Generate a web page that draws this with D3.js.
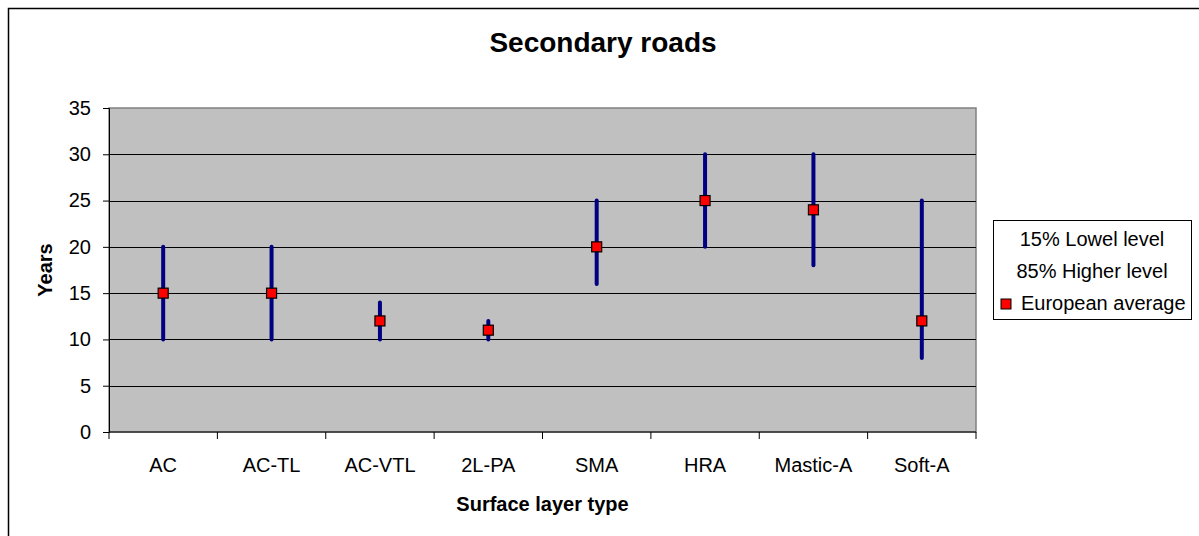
<!DOCTYPE html>
<html>
<head>
<meta charset="utf-8">
<script src="https://cdn.jsdelivr.net/npm/d3@7"></script>
<style>
  body { margin: 0; background: #fff; }
  svg { display: block; font-family: "Liberation Sans", Arial, sans-serif; }
</style>
</head>
<body>
<script>
const categories = ["AC", "AC-TL", "AC-VTL", "2L-PA", "SMA", "HRA", "Mastic-A", "Soft-A"]
const lowLevel = [10, 10, 10, 10, 16, 20, 18, 8]
const highLevel = [20, 20, 14, 12, 25, 30, 30, 25]
const europeanAverage = [15, 15, 12, 11, 20, 25, 24, 12]
const yTicks = [0, 5, 10, 15, 20, 25, 30, 35]
const legendLabels = ["15% Lowel level", "85% Higher level", "European average"]

const W = 1199, H = 536
const plot = { left: 109, top: 108, right: 976, bottom: 432 }
const fs = "20px"

const svg = d3.select("body").append("svg")
    .attr("width", W)
    .attr("height", H)

// outer chart frame (runs off the picture at right and bottom)
svg.append("rect")
    .attr("x", 8.5).attr("y", 8.5)
    .attr("width", W + 10).attr("height", H + 10)
    .style("fill", "#fff").style("stroke", "#000").style("stroke-width", 1.5)

const x = d3.scaleBand()
    .domain(categories)
    .range([plot.left, plot.right])

const y = d3.scaleLinear()
    .domain([0, 35])
    .range([plot.bottom, plot.top])

// plot area
svg.append("rect")
    .attr("x", plot.left).attr("y", plot.top)
    .attr("width", plot.right - plot.left).attr("height", plot.bottom - plot.top)
    .style("fill", "#c0c0c0").style("stroke", "#808080").style("stroke-width", 1.5)

// gridlines
svg.append("g")
    .selectAll("line")
    .data(yTicks.filter(d => d > 0 && d < 35))
    .join("line")
    .attr("x1", plot.left).attr("x2", plot.right)
    .attr("y1", d => Math.round(y(d)) + 0.5).attr("y2", d => Math.round(y(d)) + 0.5)
    .style("stroke", "#000").style("stroke-width", 1)

// y axis
const yAxis = svg.append("g")
    .attr("transform", `translate(${plot.left},0)`)
    .call(d3.axisLeft(y).tickValues(yTicks).tickSize(6).tickPadding(12))
yAxis.selectAll("text").style("font-size", fs).style("fill", "#000").attr("font-family", null)
yAxis.selectAll("line,path").style("stroke", "#000")

// x axis with ticks between categories
const xAxis = svg.append("g")
    .attr("transform", `translate(0,${plot.bottom})`)
xAxis.append("line")
    .attr("x1", plot.left).attr("x2", plot.right)
    .style("stroke", "#000")
xAxis.selectAll("line.tick")
    .data(categories.concat([null]))
    .join("line")
    .attr("class", "tick")
    .attr("x1", (d, i) => plot.left + i * x.bandwidth())
    .attr("x2", (d, i) => plot.left + i * x.bandwidth())
    .attr("y1", 0).attr("y2", 7)
    .style("stroke", "#000")
xAxis.selectAll("text")
    .data(categories)
    .join("text")
    .attr("x", d => x(d) + x.bandwidth() / 2)
    .attr("y", 40)
    .attr("text-anchor", "middle")
    .style("font-size", fs)
    .text(d => d)

// range bars
svg.append("g")
    .selectAll("line")
    .data(categories)
    .join("line")
    .attr("x1", d => x(d) + x.bandwidth() / 2)
    .attr("x2", d => x(d) + x.bandwidth() / 2)
    .attr("y1", (d, i) => y(lowLevel[i]))
    .attr("y2", (d, i) => y(highLevel[i]))
    .style("stroke", "#000080")
    .style("stroke-width", 4)
    .style("stroke-linecap", "round")

// european average markers
const ms = 10
svg.append("g")
    .selectAll("rect")
    .data(categories)
    .join("rect")
    .attr("x", d => x(d) + x.bandwidth() / 2 - ms / 2)
    .attr("y", (d, i) => y(europeanAverage[i]) - ms / 2)
    .attr("width", ms).attr("height", ms)
    .style("fill", "#ff0000")
    .style("stroke", "#000")
    .style("stroke-width", 1.2)

// titles (chart title is centred on the whole chart area)
svg.append("text")
    .attr("x", 603)
    .attr("y", 52)
    .attr("text-anchor", "middle")
    .style("font-size", "28px").style("font-weight", "bold")
    .text("Secondary roads")

svg.append("text")
    .attr("x", (plot.left + plot.right) / 2)
    .attr("y", 511)
    .attr("text-anchor", "middle")
    .style("font-size", fs).style("font-weight", "bold")
    .text("Surface layer type")

svg.append("text")
    .attr("transform", `translate(52,${(plot.top + plot.bottom) / 2}) rotate(-90)`)
    .attr("text-anchor", "middle")
    .style("font-size", fs).style("font-weight", "bold")
    .text("Years")

// legend
const legend = svg.append("g")
legend.append("rect")
    .attr("x", 993.5).attr("y", 220.5)
    .attr("width", 198).attr("height", 99)
    .style("fill", "#fff").style("stroke", "#000").style("stroke-width", 1)
legend.selectAll("text")
    .data(legendLabels)
    .join("text")
    .attr("x", (d, i) => i < 2 ? 1092 : 1021)
    .attr("y", (d, i) => 246 + i * 32)
    .attr("text-anchor", (d, i) => i < 2 ? "middle" : "start")
    .style("font-size", fs)
    .text(d => d)
legend.append("rect")
    .attr("x", 1001).attr("y", 299)
    .attr("width", 10).attr("height", 10)
    .style("fill", "#ff0000").style("stroke", "#000").style("stroke-width", 1)
</script>
</body>
</html>
